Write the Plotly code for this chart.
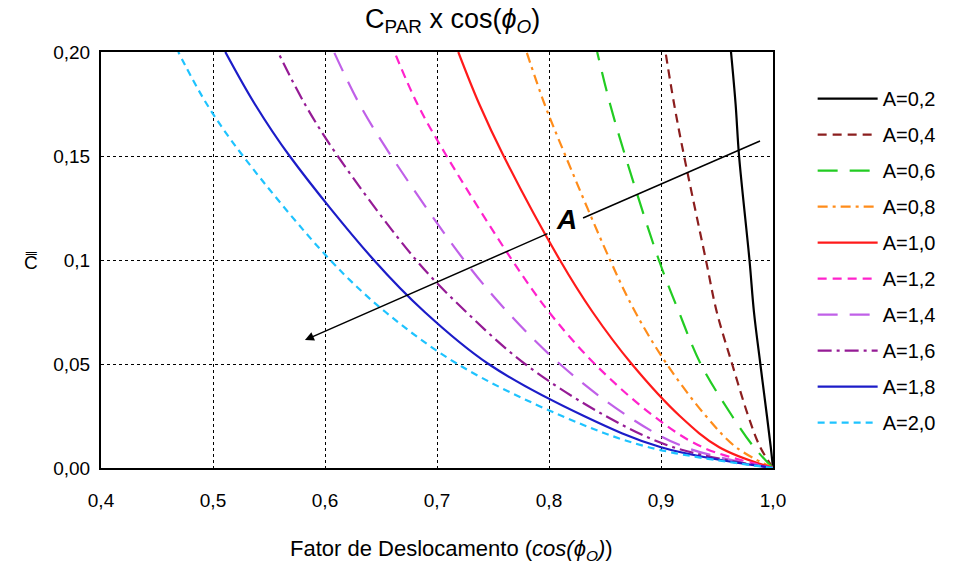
import plotly.graph_objects as go

# C level (vertical axis) at which each curve's displacement factor was taken
c_levels = [0.0, 0.01, 0.025, 0.05, 0.075, 0.1, 0.15, 0.175, 0.2]

# Displacement factor cos(phi_O) for each A value, one entry per C level
a_labels = ["A=0,2", "A=0,4", "A=0,6", "A=0,8", "A=1,0",
            "A=1,2", "A=1,4", "A=1,6", "A=1,8", "A=2,0"]
fd_a02 = [1.0, 0.998, 0.9946, 0.9887, 0.983, 0.979, 0.9697, 0.9666, 0.9625]
fd_a04 = [1.0, 0.9886, 0.9779, 0.9635, 0.9498, 0.9401, 0.9206, 0.9117, 0.904]
fd_a06 = [1.0, 0.983, 0.9635, 0.9355, 0.916, 0.8981, 0.8681, 0.8545, 0.843]
fd_a08 = [1.0, 0.967, 0.9401, 0.9051, 0.877, 0.8545, 0.8148, 0.796, 0.780]
fd_a10 = [1.0, 0.952, 0.9168, 0.8739, 0.8389, 0.8097, 0.7595, 0.7377, 0.719]
fd_a12 = [1.0, 0.937, 0.8934, 0.8409, 0.800, 0.767, 0.7086, 0.6825, 0.662]
fd_a14 = [1.0, 0.9215, 0.8701, 0.8097, 0.763, 0.7241, 0.6591, 0.6307, 0.608]
fd_a16 = [1.0, 0.911, 0.8506, 0.7786, 0.7261, 0.6813, 0.6113, 0.582, 0.558]
fd_a18 = [1.0, 0.900, 0.8312, 0.746, 0.689, 0.6436, 0.5684, 0.5373, 0.511]
fd_a20 = [1.0, 0.889, 0.8116, 0.7183, 0.654, 0.6046, 0.5268, 0.4944, 0.469]
series = [fd_a02, fd_a04, fd_a06, fd_a08, fd_a10,
          fd_a12, fd_a14, fd_a16, fd_a18, fd_a20]

x_ticks = [0.4, 0.5, 0.6, 0.7, 0.8, 0.9, 1.0]
x_tick_text = ["0,4", "0,5", "0,6", "0,7", "0,8", "0,9", "1,0"]
y_ticks = [0.0, 0.05, 0.1, 0.15, 0.2]
y_tick_text = ["0,00", "0,05", "0,1", "0,15", "0,20"]

colors = ["#000000", "#8B1E1E", "#22CC22", "#FF8C1A", "#FF1A1A",
          "#FF22CC", "#C060E8", "#951B95", "#1C1CC8", "#1EC3FF"]
dashes = ["solid", "9px,6px", "20px,12px", "10px,5px,3px,5px", "solid",
          "9px,6px", "20px,12px", "14px,5px,3px,5px", "solid", "7px,5px"]

FONT = "Liberation Sans, Arial, sans-serif"

fig = go.Figure()
for i, (label, xs) in enumerate(zip(a_labels, series)):
    fig.add_trace(go.Scatter(
        x=xs, y=c_levels, mode="lines", name=label,
        line=dict(color=colors[i], width=2.2, dash=dashes[i],
                  shape="spline", smoothing=1.0),
        legendgroup=label,
    ))

# Arrow showing the direction of increasing A, broken around its label
fig.add_shape(type="line", xref="x", yref="y",
              x0=0.8304, y0=0.1202, x1=0.9884, y1=0.1572,
              line=dict(color="black", width=1.5))
fig.add_annotation(x=0.5821, y=0.0615, ax=0.80, ay=0.113,
                   xref="x", yref="y", axref="x", ayref="y",
                   showarrow=True, arrowhead=2, arrowsize=1.2,
                   arrowwidth=1.5, arrowcolor="black", text="")
fig.add_annotation(x=0.8152, y=0.1195, xref="x", yref="y",
                   text="<b><i>A</i></b>", showarrow=False,
                   font=dict(family=FONT, size=28, color="black"))

# Vertical-axis symbol, kept upright
fig.add_annotation(x=-0.117, y=0.495, xref="paper", yref="paper",
                   text="C\u033f", showarrow=False,
                   font=dict(family=FONT, size=19, color="black"))

# Horizontal-axis title
fig.add_annotation(x=0.522, y=-0.197, xref="paper", yref="paper",
                   xanchor="center", yanchor="middle",
                   text="Fator de Deslocamento (<i>cos(\u03d5<sub>O</sub>)</i>)",
                   showarrow=False,
                   font=dict(family=FONT, size=22, color="black"))

axis_common = dict(
    showline=True, linecolor="black", linewidth=2, mirror=True,
    showgrid=True, gridcolor="black", gridwidth=1, griddash="dot",
    zeroline=False, ticks="",
    tickfont=dict(family=FONT, size=19, color="black"),
)

fig.update_layout(
    width=963, height=565,
    margin=dict(l=101, r=190, t=52, b=97),
    plot_bgcolor="white", paper_bgcolor="white",
    title=dict(text="C<sub>PAR</sub> x cos(<i>\u03d5<sub>O</sub></i>)",
               x=0.47, xanchor="center", y=0.968, yanchor="middle",
               font=dict(family=FONT, size=27, color="black")),
    xaxis=dict(range=[0.4, 1.0], tickvals=x_ticks, ticktext=x_tick_text,
               ticklabelstandoff=14, **axis_common),
    yaxis=dict(range=[0.0, 0.2], tickvals=y_ticks, ticktext=y_tick_text,
               ticklabelstandoff=5, **axis_common),
    legend=dict(x=1.059, y=0.935, xanchor="left", yanchor="top",
                font=dict(family=FONT, size=20, color="black"),
                tracegroupgap=7, itemwidth=60, bgcolor="rgba(0,0,0,0)"),
    showlegend=True,
)

fig.write_html("out.html")
